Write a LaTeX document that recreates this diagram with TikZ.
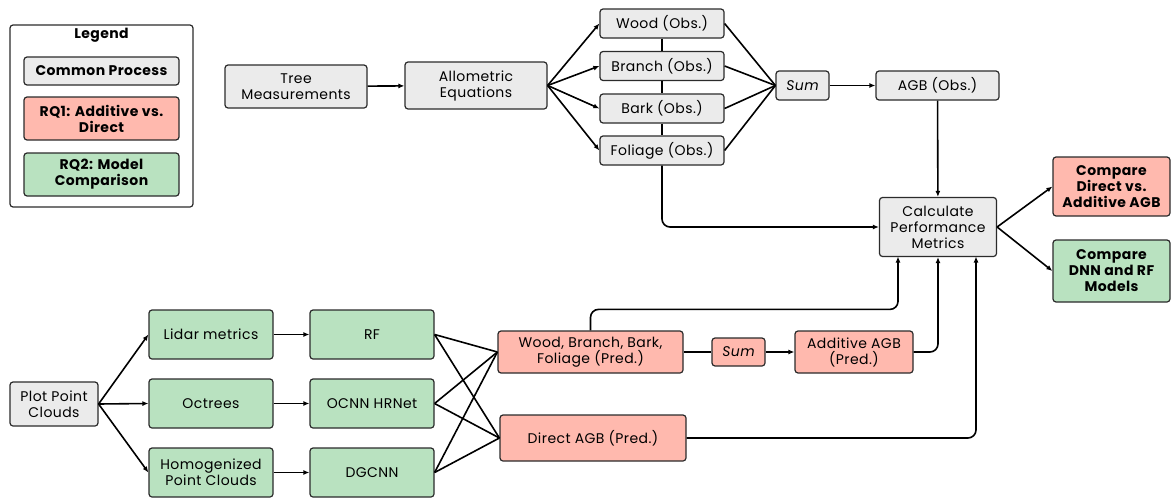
\documentclass[tikz,border=0pt]{standalone}
\usepackage{fontspec}
\setmainfont[LetterSpace=3]{Poppins}
\usetikzlibrary{arrows.meta}

\definecolor{grayfill}{HTML}{EBEBEB}
\definecolor{redfill}{HTML}{FFB9AE}
\definecolor{greenfill}{HTML}{B9E2C0}
\definecolor{edge}{HTML}{2B2B2B}

\def \lineW {1.6pt}

\tikzset{
  box/.style={draw=edge, line width=1.2pt, rounded corners=3pt, align=center, inner sep=1pt,
    font=\fontsize{14}{16}\selectfont},
  common/.style={box, fill=grayfill},
  rqone/.style={box, fill=redfill},
  rqtwo/.style={box, fill=greenfill},
  boldbox/.style={font=\fontsize{14}{16}\selectfont\bfseries},
  link/.style={line width=\lineW, draw=black},
  arr/.style={link, -{Latex[length=6pt,width=5pt]}},
  elbow/.style={arr, rounded corners=8pt}
}

\begin{document}
\begin{tikzpicture}[x=1pt, y=-1pt]
  \useasboundingbox (0,0) rectangle (1171,498);

  % Chú thích
  \node[draw=edge, line width=1.2pt, rounded corners=3pt, minimum width=183pt, minimum height=182pt] (legend) at (101.5,116) {};
  \node[boldbox] (legendtitle) at (101.5,35) {Legend};
  \node[common, boldbox, minimum width=155pt, minimum height=28pt] (legcommon) at (101.5,71) {Common Process};
  \node[rqone, boldbox, minimum width=155pt, minimum height=43pt] (legrqone) at (101.5,118.5) {RQ1: Additive vs.\\Direct};
  \node[rqtwo, boldbox, minimum width=155pt, minimum height=43pt] (legrqtwo) at (101.5,174.5) {RQ2: Model\\Comparison};

  % Phần quan sát
  \node[common, minimum width=142pt, minimum height=43pt] (tree) at (296,86.5) {Tree\\Measurements};
  \node[common, minimum width=142pt, minimum height=47pt] (allom) at (476,85.5) {Allometric\\Equations};
  \node[common, minimum width=124pt, minimum height=29pt] (wood) at (662,23.5) {Wood (Obs.)};
  \node[common, minimum width=124pt, minimum height=29pt] (branch) at (662,66) {Branch (Obs.)};
  \node[common, minimum width=124pt, minimum height=29pt] (bark) at (662,108.5) {Bark (Obs.)};
  \node[common, minimum width=124pt, minimum height=29pt] (foliage) at (662,150.5) {Foliage (Obs.)};
  \node[common, minimum width=53pt, minimum height=29pt] (sumobs) at (802.5,85.5) {\itshape Sum};
  \node[common, minimum width=123pt, minimum height=29pt] (agbobs) at (937.5,85.5) {AGB (Obs.)};
  \node[common, minimum width=117pt, minimum height=59pt] (calc) at (938,227) {Calculate\\Performance\\Metrics};
  \node[rqone, boldbox, minimum width=117pt, minimum height=59pt] (cmpadd) at (1111.5,186.5) {Compare\\Direct vs.\\Additive AGB};
  \node[rqtwo, boldbox, minimum width=117pt, minimum height=62pt] (cmpdnn) at (1111.5,271) {Compare\\DNN and RF\\Models};

  % Phần dự đoán
  \node[common, minimum width=88pt, minimum height=44pt] (plot) at (54,404) {Plot Point\\Clouds};
  \node[rqtwo, minimum width=124pt, minimum height=49pt] (lidar) at (211,334.5) {Lidar metrics};
  \node[rqtwo, minimum width=124pt, minimum height=49pt] (octrees) at (211,403.5) {Octrees};
  \node[rqtwo, minimum width=124pt, minimum height=49pt] (homog) at (211,472.5) {Homogenized\\Point Clouds};
  \node[rqtwo, minimum width=124pt, minimum height=49pt] (rf) at (372,334.5) {RF};
  \node[rqtwo, minimum width=124pt, minimum height=49pt] (ocnn) at (372,403.5) {OCNN HRNet};
  \node[rqtwo, minimum width=124pt, minimum height=49pt] (dgcnn) at (372,472.5) {DGCNN};
  \node[rqone, minimum width=185pt, minimum height=42pt] (predparts) at (590.5,352) {Wood, Branch, Bark,\\Foliage (Pred.)};
  \node[rqone, minimum width=53pt, minimum height=28pt] (sumpred) at (738.5,352) {\itshape Sum};
  \node[rqone, minimum width=118pt, minimum height=42pt] (addagb) at (854,352) {Additive AGB\\(Pred.)};
  \node[rqone, minimum width=186pt, minimum height=46pt] (directagb) at (593,438) {Direct AGB (Pred.)};

  \coordinate (calcleft) at (898,256.5);
  \coordinate (calcright) at (976,256.5);

  % Mũi tên phần trên
  \draw[arr] (tree) -- (allom);
  \foreach \n in {wood, branch, bark, foliage}
    \draw[arr] (allom.east) -- (\n.west);
  \draw[link] (wood) -- (branch) (branch) -- (bark) (bark) -- (foliage);
  \foreach \n in {wood, branch, bark, foliage}
    \draw[link] (\n.east) -- (sumobs.west);
  \draw[arr] (sumobs) -- (agbobs);
  \draw[arr] (agbobs) -- (calc);
  \draw[elbow] (foliage.south) |- (calc.west);
  \draw[arr] (calc.east) -- (cmpadd.west);
  \draw[arr] (calc.east) -- (cmpdnn.west);

  % Mũi tên phần dưới
  \foreach \n in {lidar, octrees, homog}
    \draw[arr] (plot.east) -- (\n.west);
  \draw[arr] (lidar) -- (rf);
  \draw[arr] (octrees) -- (ocnn);
  \draw[arr] (homog) -- (dgcnn);
  \foreach \n in {rf, ocnn, dgcnn} {
    \draw[link] (\n.east) -- (predparts.west);
    \draw[link] (\n.east) -- (directagb.west);
  }
  \draw[link] (predparts) -- (sumpred);
  \draw[arr] (sumpred) -- (addagb);
  \draw[elbow] (predparts.north) -- ++(0,-21) -| (calcleft);
  \draw[elbow] (addagb.east) -| (calc.south);
  \draw[elbow] (directagb.east) -| (calcright);
\end{tikzpicture}
\end{document}
